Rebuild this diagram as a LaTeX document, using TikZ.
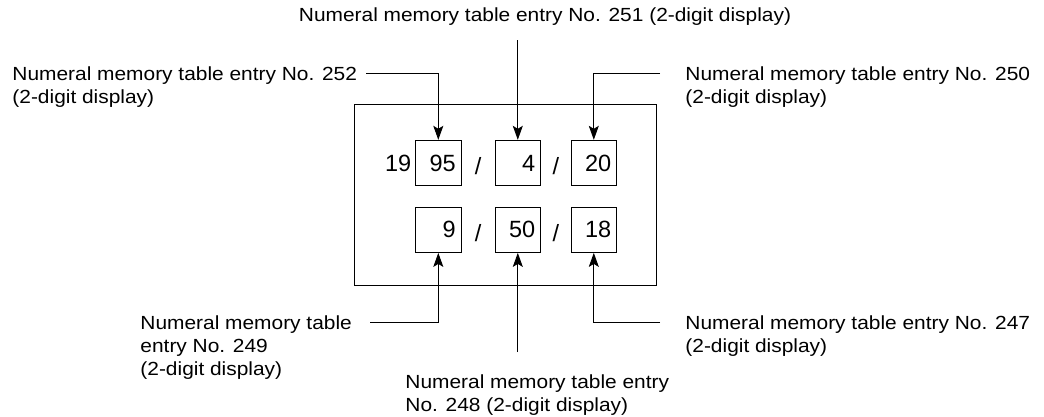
\documentclass[tikz,border=0pt]{standalone}
\usepackage{fontspec}
\setmainfont{Liberation Sans}
\newfontfamily\lblfont[FakeStretch=1.1]{Liberation Sans}
\usetikzlibrary{arrows.meta,calc}

\begin{document}
\begin{tikzpicture}[x=1pt,y=-1pt,line width=0.9pt,>={Stealth[length=14pt,width=10pt,inset=3pt]},
  digbox/.style={draw,minimum width=45.5pt,minimum height=45.5pt,text width=35pt,inner xsep=5pt,align=right,font=\fontsize{23.5}{24}\selectfont},
  digtxt/.style={inner sep=0pt,font=\fontsize{23.5}{24}\selectfont},
  lbl/.style={inner sep=0pt,align=left,font=\lblfont\fontsize{19}{23}\selectfont}]
\useasboundingbox (0,0) rectangle (1044,416);
% display frame
\draw[line width=1pt] (354,104.3) rectangle (656.7,285.7);
% date row
\node[digbox] (yr) at (438.3,163) {95};
\node[digbox] (mon) at (517.8,163) {4};
\node[digbox] (day) at (593.8,163) {20};
\node[digtxt,anchor=east] (cent) at ([xshift=-3.5pt]yr.west) {19};
\node[digtxt,yshift=-3pt] (s1) at ($(yr.east)!0.5!(mon.west)$) {/};
\node[digtxt,yshift=-3pt] (s2) at ($(mon.east)!0.5!(day.west)$) {/};
% time row
\node[digbox] (hr) at (438.3,229.7) {9};
\node[digbox] (mnt) at (517.8,229.7) {50};
\node[digbox] (sec) at (593.8,229.7) {18};
\node[digtxt,yshift=-3pt] (s3) at ($(hr.east)!0.5!(mnt.west)$) {/};
\node[digtxt,yshift=-3pt] (s4) at ($(mnt.east)!0.5!(sec.west)$) {/};
% labels
\node[lbl,anchor=north] (l251) at (545,7) {Numeral memory table entry No. 251 (2-digit display)};
\node[lbl,anchor=north west] (l252) at (12,66) {Numeral memory table entry No. 252\\(2-digit display)};
\node[lbl,anchor=north west] (l250) at (685,66) {Numeral memory table entry No. 250\\(2-digit display)};
\node[lbl,anchor=north west] (l249) at (140,315) {Numeral memory table\\entry No. 249\\(2-digit display)};
\node[lbl,anchor=north west] (l247) at (685,315) {Numeral memory table entry No. 247\\(2-digit display)};
\node[lbl,anchor=north west] (l248) at (405,374) {Numeral memory table entry\\No. 248 (2-digit display)};
% leaders
\coordinate (c252) at (366,73);
\coordinate (c251) at (517.8,40);
\coordinate (c250) at (660,73);
\coordinate (c249) at (370,322);
\coordinate (c248) at (517.8,352);
\coordinate (c247) at (660,322);
\draw[->] (c252) -| (yr);
\draw[->] (c251) -- (mon);
\draw[->] (c250) -| (day);
\draw[->] (c249) -| (hr);
\draw[->] (c248) -- (mnt);
\draw[->] (c247) -| (sec);
\end{tikzpicture}
\end{document}
